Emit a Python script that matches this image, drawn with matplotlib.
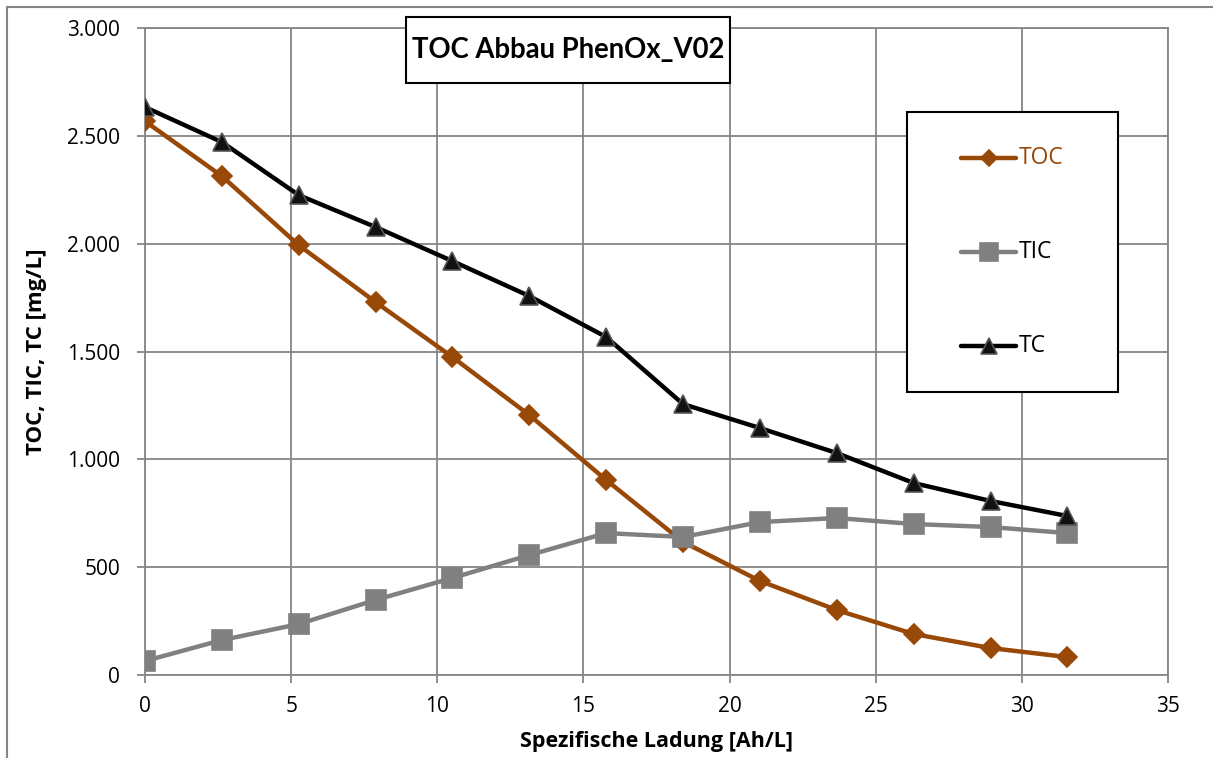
import matplotlib
matplotlib.use("Agg")
import matplotlib.pyplot as plt
from matplotlib.patches import Rectangle
from matplotlib.lines import Line2D
from matplotlib.ticker import FuncFormatter, MultipleLocator

plt.rcParams["font.family"] = ["Open Sans", "DejaVu Sans"]

# ---------------------------------------------------------------- data
ladung = [0, 2.63, 5.26, 7.89, 10.52, 13.15, 15.78, 18.41, 21.04, 23.67, 26.3, 28.93, 31.56]
toc = [2568, 2313, 1993, 1729, 1474, 1205, 904, 617, 436, 301, 190, 125, 83]
tic = [65, 162, 236, 348, 450, 556, 658, 640, 709, 728, 700, 686, 658]
tc = [2633, 2471, 2225, 2077, 1919, 1757, 1567, 1256, 1145, 1029, 890, 807, 737]

# name, values, line colour, marker, face, edge, size (plot), size (legend)
series = [
    ("TOC", toc, "#984807", "D", "#984807", "#984807", 10.5, 8),
    ("TIC", tic, "#808080", "s", "#808080", "#808080", 14, 12.5),
    ("TC", tc, "#000000", "^", "#111111", "#555555", 13.5, 12),
]

# --------------------------------------------------------------- figure
W, H = 1213, 758
fig = plt.figure(figsize=(W / 100, H / 100), dpi=100)

# outer chart border (cut off at right/bottom)
fig.patches.append(Rectangle((7 / W, -0.1), 1.2, 1 - 7 / H + 0.1,
                             transform=fig.transFigure, fill=False,
                             edgecolor="#868686", linewidth=1.5))

ax = fig.add_axes([145 / W, 1 - 675 / H, (1168 - 145) / W, (675 - 28) / H])
grid_c = "#868686"

for name, y, col, mk, mfc, mec, ms, _ in series:
    ax.plot(ladung, y, color=col, linewidth=3.2, marker=mk, markersize=ms,
            markerfacecolor=mfc, markeredgecolor=mec, markeredgewidth=1.2,
            label=name, zorder=3)

ax.set_xlim(0, 35)
ax.set_ylim(0, 3000)
ax.xaxis.set_major_locator(MultipleLocator(5))
ax.yaxis.set_major_locator(MultipleLocator(500))
ax.yaxis.set_major_formatter(FuncFormatter(lambda v, p: f"{int(v):,}".replace(",", ".")))
ax.grid(True, color=grid_c, linewidth=1.3)
ax.set_axisbelow(True)
for s in ax.spines.values():
    s.set_color(grid_c)
    s.set_linewidth(1.3)
ax.tick_params(axis="both", colors=grid_c, length=6, width=1.3, labelcolor="black",
               labelsize=15)
ax.tick_params(axis="x", pad=9)
ax.tick_params(axis="y", pad=12)

# axis titles
fig.text(657 / W, 1 - 742 / H, "Spezifische Ladung [Ah/L]", ha="center", va="center",
         fontsize=15.5, fontweight="bold")
fig.text(37 / W, 1 - 352 / H, "TOC, TIC, TC [mg/L]", ha="center", va="center",
         rotation=90, fontsize=16, fontweight="bold")

# title box
fig.patches.append(Rectangle((406 / W, 1 - 83 / H), (730 - 406) / W, (83 - 17) / H,
                             transform=fig.transFigure, facecolor="white",
                             edgecolor="black", linewidth=1.5, zorder=5))
fig.text(568 / W, 1 - 50 / H, "TOC Abbau PhenOx_V02", ha="center", va="center",
         fontsize=19.8, fontweight="bold", zorder=6,
         family=["Lato", "DejaVu Sans"])

# legend box
fig.patches.append(Rectangle((907 / W, 1 - 392 / H), (1118 - 907) / W, (392 - 112) / H,
                             transform=fig.transFigure, facecolor="white",
                             edgecolor="black", linewidth=1.5, zorder=5))
for (name, y, col, mk, mfc, mec, ms, lms), yp in zip(series, [158, 252, 346]):
    yy = 1 - yp / H
    fig.lines.append(Line2D([961 / W, 1016 / W], [yy, yy], transform=fig.transFigure,
                            color=col, linewidth=3.2, solid_capstyle="round", zorder=6))
    fig.lines.append(Line2D([988.5 / W], [yy], transform=fig.transFigure, marker=mk,
                            markersize=lms, markerfacecolor=mfc, markeredgecolor=mec,
                            markeredgewidth=1.2, linestyle="none", zorder=7))
    fig.text(1019 / W, yy, name, ha="left", va="center", fontsize=16.5,
             color=col if name == "TOC" else "black", zorder=8)

fig.savefig("out.png", dpi=100)
